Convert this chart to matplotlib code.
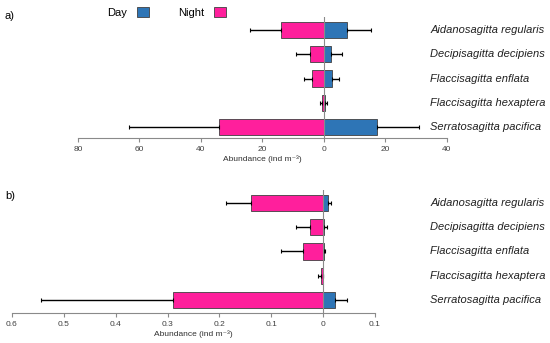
import matplotlib
matplotlib.use('Agg')
import matplotlib.pyplot as plt
import matplotlib.transforms as mtransforms
from matplotlib.patches import Patch
import numpy as np

plt.rcParams['font.family'] = ['Liberation Sans', 'DejaVu Sans']

# 종 이름
species = ['Aidanosagitta regularis', 'Decipisagitta decipiens', 'Flaccisagitta enflata',
           'Flaccisagitta hexaptera', 'Serratosagitta pacifica']

# a) 개체수 (ind m-3)
a_day = [7.5, 2.2, 2.6, 0.3, 17.1]
a_day_err = [7.7, 3.5, 2.4, 0.7, 13.9]
a_night = [14.0, 4.7, 4.0, 0.6, 34.1]
a_night_err = [10.0, 4.5, 2.4, 0.6, 29.3]
a_ticks = [-80, -60, -40, -20, 0, 20, 40]
a_ticklabels = ['80', '60', '40', '20', '0', '20', '40']

# b) 개체수 (ind m-3)
b_day = [0.0096, 0.0026, 0.002, 0.0005, 0.023]
b_day_err = [0.0064, 0.0044, 0.002, 0.0, 0.0227]
b_night = [0.139, 0.025, 0.039, 0.005, 0.29]
b_night_err = [0.0485, 0.028, 0.0425, 0.005, 0.255]
b_ticks = [-0.6, -0.5, -0.4, -0.3, -0.2, -0.1, 0, 0.1]
b_ticklabels = ['0.6', '0.5', '0.4', '0.3', '0.2', '0.1', '0', '0.1']

day_color = '#2E75B6'
night_color = '#FF1F9C'
edge = '#404040'
axis_gray = '#8a8a8a'

fig = plt.figure(figsize=(5.5, 3.43), dpi=100)
ax_a = fig.add_axes([0.1418, 0.5977, 0.6709, 0.3527])
ax_b = fig.add_axes([0.0218, 0.0875, 0.66, 0.3585])


def draw(ax, day, day_err, night, night_err, ticks, ticklabels, xlim, ylim):
    y = np.arange(len(species))
    zeros = np.zeros(len(species))
    night_neg = -np.array(night)
    ekw = dict(elinewidth=1.0, capthick=0.8, ecolor='black')
    ax.barh(y, night_neg, height=0.67, color=night_color, edgecolor=edge, linewidth=0.6,
            xerr=[night_err, zeros], capsize=1.5, error_kw=ekw)
    ax.barh(y, day, height=0.67, color=day_color, edgecolor=edge, linewidth=0.6,
            xerr=[zeros, day_err], capsize=1.5, error_kw=ekw)
    ax.axvline(0, color=axis_gray, linewidth=0.8, zorder=5)
    ax.set_xlim(*xlim)
    ax.set_ylim(*ylim)
    ax.set_xticks(ticks)
    ax.set_xticklabels(ticklabels)
    ax.set_yticks([])
    for s in ['top', 'right', 'left']:
        ax.spines[s].set_visible(False)
    ax.spines['bottom'].set_color(axis_gray)
    ax.spines['bottom'].set_linewidth(0.8)
    ax.tick_params(axis='x', length=3, width=0.8, color=axis_gray, labelsize=6,
                   labelcolor='#404040', pad=3)
    ax.set_xlabel('Abundance (ind m\u207b\u00b3)', fontsize=6, color='#303030', labelpad=1.5)
    trans = mtransforms.blended_transform_factory(fig.transFigure, ax.transData)
    for i, name in enumerate(species):
        ax.text(0.782, i, name, transform=trans, fontsize=8, style='italic',
                va='center', ha='left', color='#202020')


draw(ax_a, a_day, a_day_err, a_night, a_night_err, a_ticks, a_ticklabels,
     (-80, 40), (4.45, -0.536))
draw(ax_b, b_day, b_day_err, b_night, b_night_err, b_ticks, b_ticklabels,
     (-0.6, 0.1), (4.53, -0.52))

fig.text(0.009, 0.952, 'a)', fontsize=8, va='center', ha='left')
fig.text(0.009, 0.428, 'b)', fontsize=8, va='center', ha='left')

handles = [Patch(facecolor=day_color, edgecolor=edge, linewidth=0.6),
           Patch(facecolor=night_color, edgecolor=edge, linewidth=0.6)]
fig.legend(handles, ['Day', 'Night'], ncol=2, markerfirst=False, frameon=False,
           loc='upper left', bbox_to_anchor=(0.19, 0.986), fontsize=8,
           handlelength=1.08, handleheight=1.0, handletextpad=0.9,
           columnspacing=2.65, borderpad=0.2, borderaxespad=0)

fig.savefig('out.png', dpi=100)
